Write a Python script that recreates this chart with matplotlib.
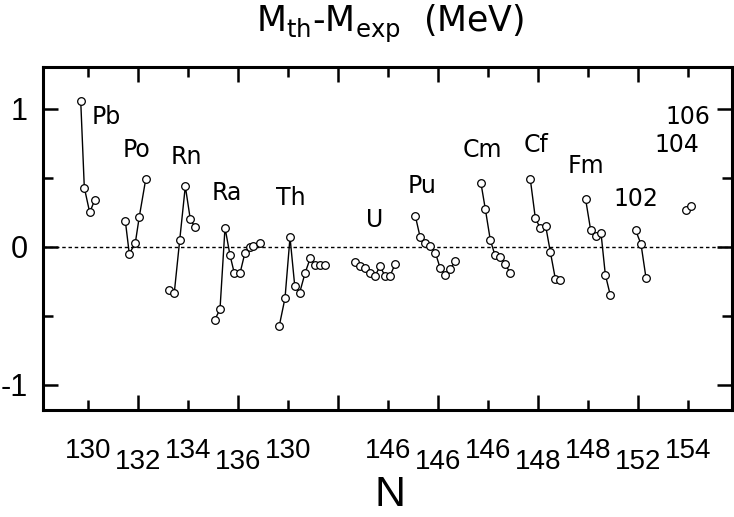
import matplotlib.pyplot as plt

# positions along the concatenated N axis (tick units), and M_th - M_exp in MeV
pb_x = [-0.146, -0.074, 0.034, 0.134]
pb_y = [1.06, 0.43, 0.25, 0.34]
po_x = [0.746, 0.826, 0.946, 1.026, 1.154]
po_y = [0.19, -0.05, 0.03, 0.22, 0.49]
rn_x = [1.626, 1.726, 1.834, 1.946, 2.046, 2.14]
rn_y = [-0.31, -0.33, 0.05, 0.44, 0.20, 0.145]
ra_x = [2.534, 2.64, 2.74, 2.84, 2.926, 3.04, 3.14, 3.24, 3.306, 3.44]
ra_y = [-0.53, -0.45, 0.14, -0.06, -0.19, -0.19, -0.04, 0.0, 0.01, 0.03]
th_x = [3.826, 3.94, 4.04, 4.134, 4.234, 4.34, 4.446, 4.54, 4.64, 4.74]
th_y = [-0.57, -0.37, 0.07, -0.28, -0.33, -0.19, -0.08, -0.13, -0.13, -0.13]
u_x = [5.334, 5.434, 5.534, 5.64, 5.74, 5.84, 5.94, 6.04, 6.146]
u_y = [-0.11, -0.14, -0.15, -0.19, -0.21, -0.14, -0.21, -0.21, -0.12]
pu_x = [6.546, 6.64, 6.74, 6.84, 6.946, 7.04, 7.14, 7.246, 7.346]
pu_y = [0.225, 0.075, 0.03, 0.007, -0.04, -0.15, -0.2, -0.16, -0.10]
cm_x = [7.86, 7.946, 8.046, 8.14, 8.246, 8.346, 8.446]
cm_y = [0.46, 0.275, 0.05, -0.06, -0.07, -0.125, -0.19]
cf_x = [8.846, 8.946, 9.046, 9.154, 9.246, 9.346, 9.44]
cf_y = [0.49, 0.21, 0.135, 0.15, -0.035, -0.23, -0.24]
fm_x = [9.95, 10.054, 10.154, 10.26, 10.346, 10.446]
fm_y = [0.35, 0.12, 0.08, 0.10, -0.2, -0.35]
z102_x = [10.954, 11.06, 11.16]
z102_y = [0.12, 0.02, -0.225]
z104_x = [11.966, 12.06]
z104_y = [0.27, 0.30]

chains = [(pb_x, pb_y), (po_x, po_y), (rn_x, rn_y), (ra_x, ra_y), (th_x, th_y),
          (u_x, u_y), (pu_x, pu_y), (cm_x, cm_y), (cf_x, cf_y), (fm_x, fm_y),
          (z102_x, z102_y)]

names = ['Pb', 'Po', 'Rn', 'Ra', 'Th', 'U', 'Pu', 'Cm', 'Cf', 'Fm', '102', '104', '106']
name_x = [0.374, 0.96, 1.974, 2.774, 4.054, 5.74, 6.674, 7.88, 8.96, 9.96, 10.96, 11.77, 11.99]
name_y = [0.944, 0.70, 0.654, 0.39, 0.353, 0.196, 0.44, 0.70, 0.74, 0.587, 0.345, 0.74, 0.94]

n_ticks = [0, 1, 2, 3, 4, 6, 7, 8, 9, 10, 11, 12]
n_labels = ['130', '132', '134', '136', '130', '146', '146', '146', '148', '148', '152', '154']

num_font = 'Liberation Sans'

fig = plt.figure(figsize=(7.34, 5.17), dpi=100)
ax = fig.add_axes([0.0586, 0.207, 0.9387, 0.6634])

ax.axhline(0, color='k', lw=1.0, ls=(0, (2.5, 2)))
for xs, ys in chains:
    ax.plot(xs, ys, '-o', color='k', lw=1.0, ms=5.5, mfc='white', mec='k', mew=0.9)
ax.plot(z104_x, z104_y, 'o', ms=5.5, mfc='white', mec='k', mew=0.9)

for t, x, y in zip(names, name_x, name_y):
    ax.text(x, y, t, ha='center', va='center', fontsize=17)

ax.set_xlim(-0.9, 12.88)
ax.set_ylim(-1.181, 1.304)
ax.set_xticks([1, 3, 5, 7, 9, 11])
ax.set_xticks([0, 2, 4, 6, 8, 10, 12], minor=True)
ax.set_xticklabels([])
ax.set_yticks([-1, 0, 1])
ax.set_yticks([-0.5, 0.5], minor=True)
ax.set_yticklabels(['-1', '0', '1'], family=num_font, fontsize=22)
ax.tick_params(which='major', direction='in', top=True, right=True, length=11, width=1.8, pad=11)
ax.tick_params(which='minor', direction='in', top=True, right=True, length=7, width=1.8)
for s in ax.spines.values():
    s.set_linewidth(2.2)

for k, lab in zip(n_ticks, n_labels):
    yy = -0.1195 if k % 2 == 0 else -0.1516
    ax.text(k, yy, lab, transform=ax.get_xaxis_transform(), ha='center', va='center',
            family=num_font, fontsize=20)

fig.text(390 / 734, 1 - 515 / 517, 'N', ha='center', va='bottom', family=num_font, fontsize=31)
fig.text(390 / 734, 1 - 32 / 517, r'M$_{\mathrm{th}}$-M$_{\mathrm{exp}}$  (MeV)',
         ha='center', va='baseline', fontsize=25)

fig.savefig('out.png', dpi=100)
